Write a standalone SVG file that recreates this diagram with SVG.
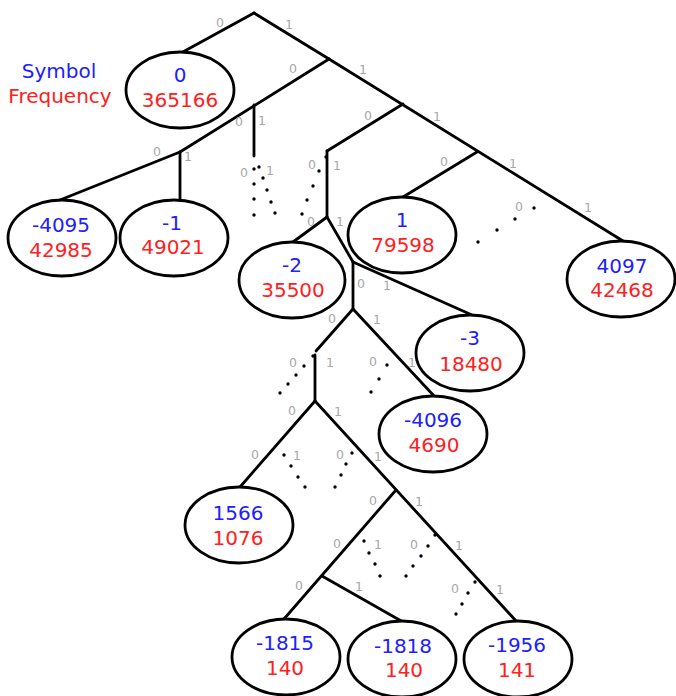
<svg xmlns="http://www.w3.org/2000/svg" width="676" height="696" viewBox="0 0 676 696">
<style>
.e{fill:#fff;stroke:#000;stroke-width:2.8}
.c line{stroke:#000;stroke-width:2.8;stroke-linecap:round}
.d circle{fill:#000}
.s{font-family:"DejaVu Sans",Verdana,sans-serif;font-size:20px;text-anchor:middle;fill:#2020ff}
.f{font-family:"DejaVu Sans",Verdana,sans-serif;font-size:20px;text-anchor:middle;fill:#ff2020}
.l text{font-family:"DejaVu Sans",Verdana,sans-serif;font-size:12.5px;text-anchor:middle;fill:#a8a8a8}
</style>
<rect width="676" height="696" fill="#fff"/>
<g id="legend">
<text class="s" x="59" y="78">Symbol</text>
<text class="f" x="60" y="103">Frequency</text>
</g>
<g id="connectors" class="c">
<line x1="254" y1="13" x2="181" y2="53"/>
<line x1="254" y1="13" x2="329" y2="59"/>
<line x1="329" y1="59" x2="180" y2="152"/>
<line x1="254" y1="105" x2="254" y2="156"/>
<line x1="180" y1="152" x2="60" y2="200"/>
<line x1="180" y1="152" x2="180" y2="200"/>
<line x1="329" y1="59" x2="623" y2="241"/>
<line x1="403" y1="104" x2="327" y2="151"/>
<line x1="327" y1="151" x2="327" y2="217"/>
<line x1="477" y1="152" x2="403" y2="197"/>
<line x1="327" y1="217" x2="293" y2="242"/>
<line x1="327" y1="217" x2="353" y2="262"/>
<line x1="353" y1="262" x2="472" y2="315"/>
<line x1="353" y1="262" x2="353" y2="309"/>
<line x1="353" y1="309" x2="316" y2="351"/>
<line x1="315" y1="355" x2="315" y2="401"/>
<line x1="353" y1="309" x2="435" y2="397"/>
<line x1="315" y1="401" x2="240" y2="487"/>
<line x1="315" y1="401" x2="517" y2="622"/>
<line x1="396" y1="490" x2="284" y2="619"/>
<line x1="322" y1="576" x2="403" y2="622"/>
</g>
<g id="omitted" class="d">
<circle cx="254" cy="169" r="1.7"/><circle cx="254" cy="184" r="1.7"/><circle cx="254" cy="199" r="1.7"/><circle cx="254" cy="215" r="1.7"/>
<circle cx="259" cy="167" r="1.7"/><circle cx="263" cy="178" r="1.7"/><circle cx="267" cy="190" r="1.7"/><circle cx="271" cy="202" r="1.7"/><circle cx="275" cy="213" r="1.7"/>
<circle cx="326" cy="157" r="1.7"/><circle cx="319" cy="171" r="1.7"/><circle cx="313" cy="186" r="1.7"/><circle cx="307" cy="200" r="1.7"/><circle cx="302" cy="214" r="1.7"/>
<circle cx="534" cy="208" r="1.7"/><circle cx="515" cy="219" r="1.7"/><circle cx="497" cy="230" r="1.7"/><circle cx="478" cy="242" r="1.7"/>
<circle cx="313" cy="356" r="1.7"/><circle cx="304" cy="366" r="1.7"/><circle cx="296" cy="375" r="1.7"/><circle cx="288" cy="384" r="1.7"/><circle cx="280" cy="393" r="1.7"/>
<circle cx="387" cy="365" r="1.7"/><circle cx="379" cy="379" r="1.7"/><circle cx="371" cy="392" r="1.7"/>
<circle cx="284" cy="455" r="1.7"/><circle cx="291" cy="466" r="1.7"/><circle cx="298" cy="477" r="1.7"/><circle cx="305" cy="487" r="1.7"/>
<circle cx="352" cy="453" r="1.7"/><circle cx="346" cy="464" r="1.7"/><circle cx="341" cy="475" r="1.7"/><circle cx="335" cy="487" r="1.7"/>
<circle cx="364" cy="541" r="1.7"/><circle cx="369" cy="553" r="1.7"/><circle cx="375" cy="564" r="1.7"/><circle cx="380" cy="576" r="1.7"/>
<circle cx="435" cy="535" r="1.7"/><circle cx="428" cy="546" r="1.7"/><circle cx="421" cy="556" r="1.7"/><circle cx="413" cy="566" r="1.7"/><circle cx="406" cy="576" r="1.7"/>
<circle cx="475" cy="582" r="1.7"/><circle cx="468" cy="593" r="1.7"/><circle cx="462" cy="604" r="1.7"/><circle cx="456" cy="614" r="1.7"/>
</g>
<g id="edge-labels" class="l">
<text x="220" y="27">0</text><text x="289" y="29">1</text>
<text x="293" y="73">0</text><text x="363" y="74">1</text>
<text x="239" y="126">0</text><text x="262" y="125">1</text>
<text x="157" y="156">0</text><text x="188" y="161">1</text>
<text x="244" y="177">0</text><text x="270" y="175">1</text>
<text x="368" y="120">0</text><text x="437" y="121">1</text>
<text x="312" y="169">0</text><text x="337" y="170">1</text>
<text x="444" y="166">0</text><text x="513" y="168">1</text>
<text x="519" y="211">0</text><text x="588" y="212">1</text>
<text x="311" y="226">0</text><text x="340" y="226">1</text>
<text x="361" y="288">0</text><text x="387" y="290">1</text>
<text x="332" y="323">0</text><text x="377" y="324">1</text>
<text x="293" y="367">0</text><text x="330" y="367">1</text>
<text x="373" y="366">0</text><text x="412" y="367">1</text>
<text x="292" y="415">0</text><text x="338" y="416">1</text>
<text x="255" y="459">0</text><text x="297" y="460">1</text>
<text x="340" y="459">0</text><text x="378" y="461">1</text>
<text x="373" y="505">0</text><text x="419" y="506">1</text>
<text x="337" y="548">0</text><text x="378" y="549">1</text>
<text x="414" y="549">0</text><text x="459" y="550">1</text>
<text x="455" y="593">0</text><text x="500" y="594">1</text>
<text x="299" y="590">0</text><text x="359" y="591">1</text>
</g>
<g id="n0"><ellipse class="e" cx="180" cy="90" rx="54" ry="38"/><text class="s" x="180" y="82">0</text><text class="f" x="180" y="107">365166</text></g>
<g id="n-4095"><ellipse class="e" cx="62" cy="238" rx="54" ry="38"/><text class="s" x="61" y="232">-4095</text><text class="f" x="61" y="257">42985</text></g>
<g id="n-1"><ellipse class="e" cx="174" cy="238" rx="54" ry="38"/><text class="s" x="172" y="230">-1</text><text class="f" x="173" y="254">49021</text></g>
<g id="n-2"><ellipse class="e" cx="292" cy="280" rx="53" ry="38"/><text class="s" x="292" y="272">-2</text><text class="f" x="293" y="297">35500</text></g>
<g id="n1"><ellipse class="e" cx="402" cy="235" rx="54" ry="38"/><text class="s" x="402" y="227">1</text><text class="f" x="403" y="252">79598</text></g>
<g id="n4097"><ellipse class="e" cx="621" cy="279" rx="54" ry="38"/><text class="s" x="622" y="273">4097</text><text class="f" x="622" y="297">42468</text></g>
<g id="n-3"><ellipse class="e" cx="470" cy="353" rx="54" ry="38"/><text class="s" x="470" y="345">-3</text><text class="f" x="471" y="371">18480</text></g>
<g id="n-4096"><ellipse class="e" cx="433" cy="434" rx="54" ry="38"/><text class="s" x="433" y="427">-4096</text><text class="f" x="434" y="452">4690</text></g>
<g id="n1566"><ellipse class="e" cx="239" cy="525" rx="54" ry="38"/><text class="s" x="238" y="520">1566</text><text class="f" x="238" y="545">1076</text></g>
<g id="n-1815"><ellipse class="e" cx="286" cy="657" rx="54" ry="38"/><text class="s" x="285" y="650">-1815</text><text class="f" x="285" y="675">140</text></g>
<g id="n-1818"><ellipse class="e" cx="402" cy="659" rx="54" ry="38"/><text class="s" x="403" y="653">-1818</text><text class="f" x="404" y="677">140</text></g>
<g id="n-1956"><ellipse class="e" cx="518" cy="659" rx="54" ry="38"/><text class="s" x="517" y="652">-1956</text><text class="f" x="517" y="677">141</text></g>
</svg>
